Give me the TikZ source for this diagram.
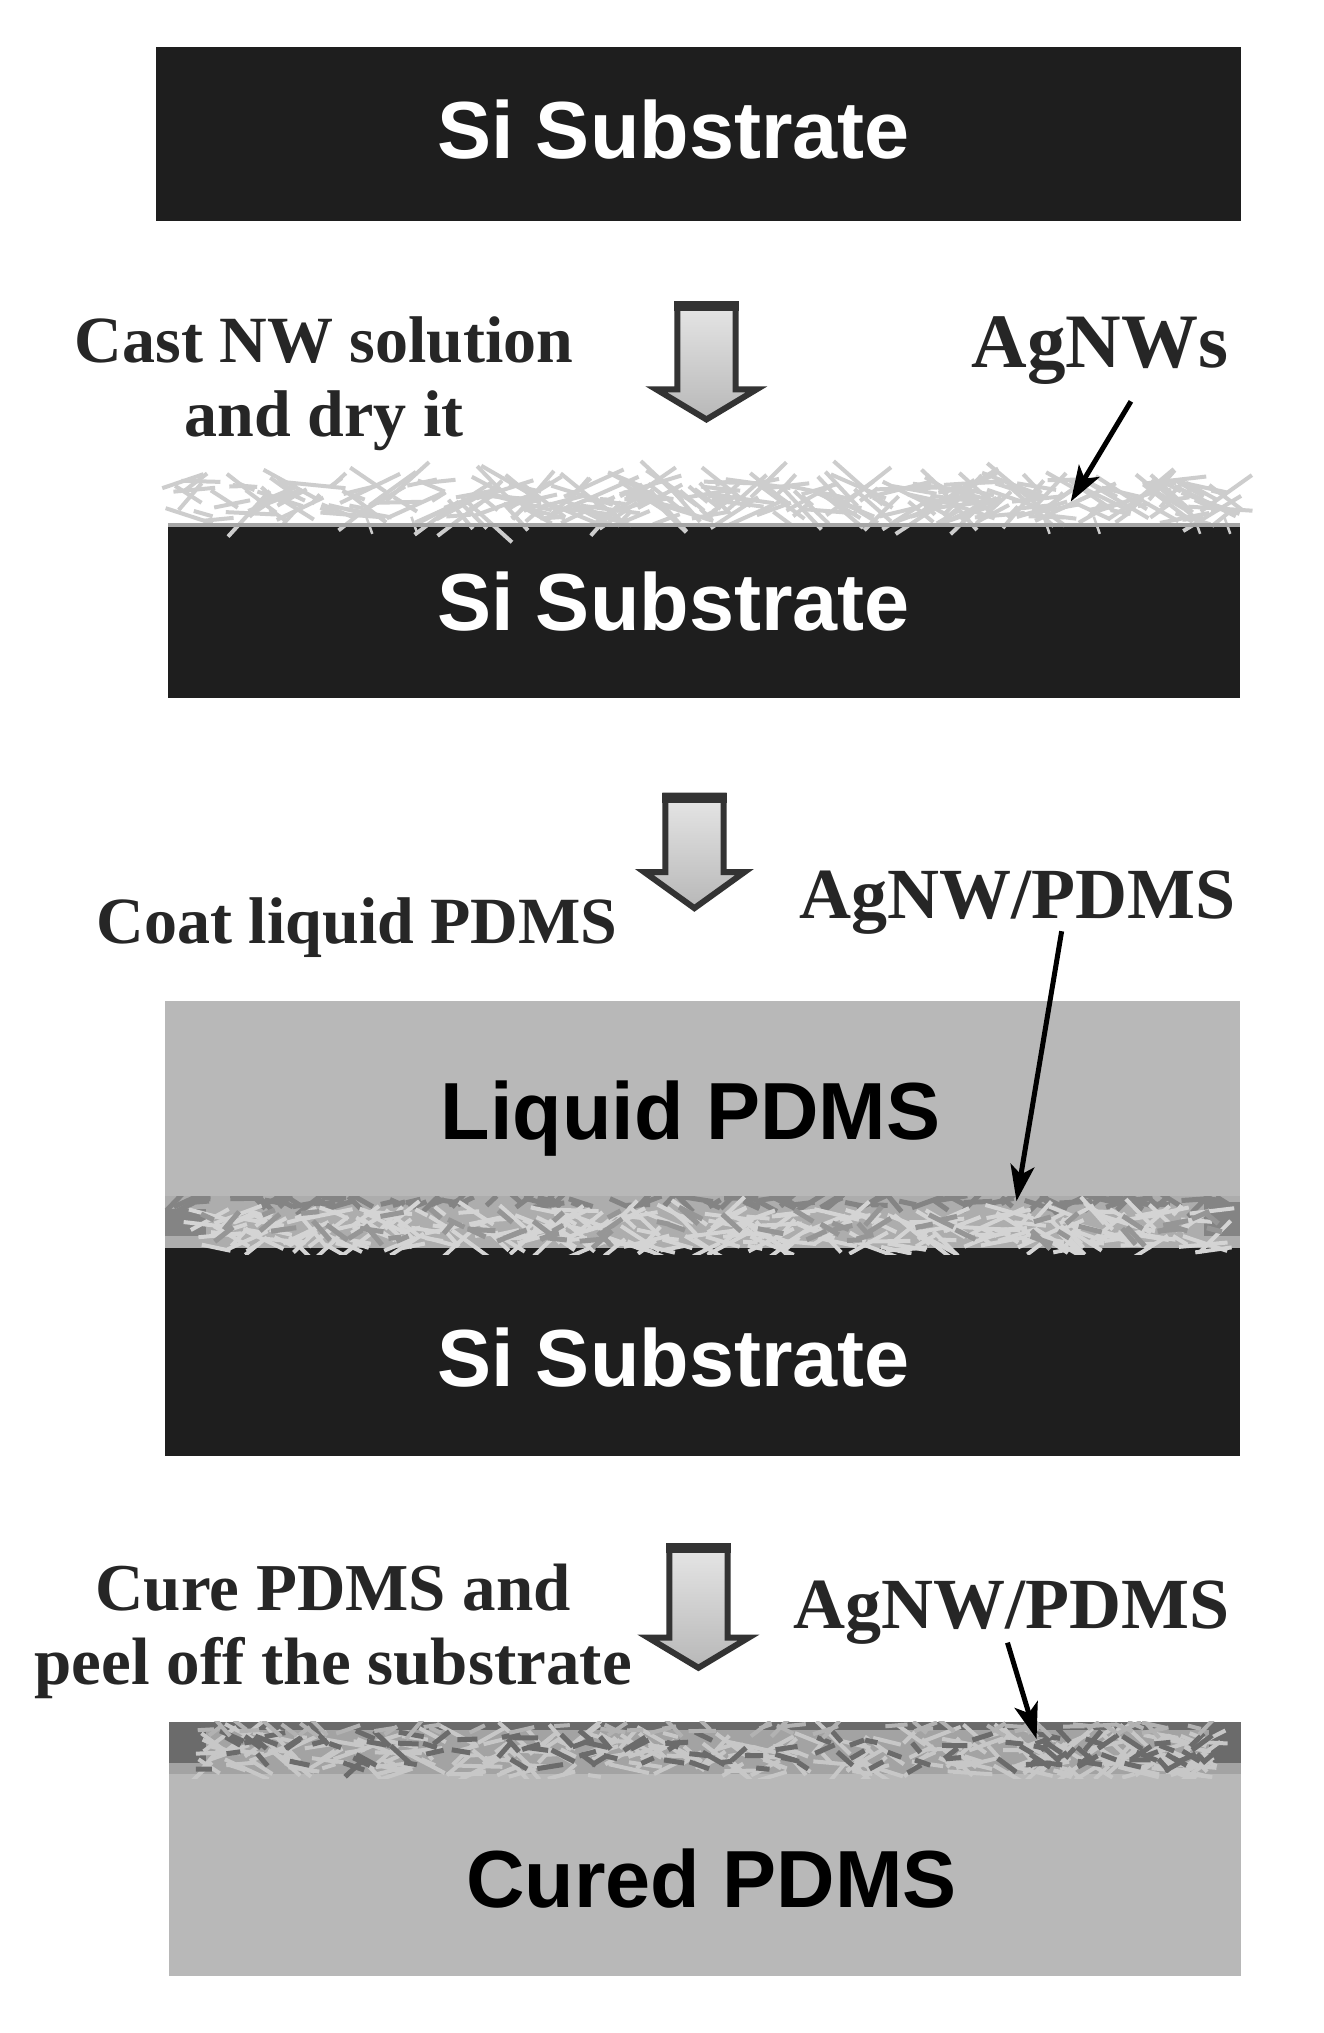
\documentclass[tikz,border=0pt]{standalone}
\usepackage{fontspec}
\setmainfont{Liberation Serif}
\setsansfont{Liberation Sans}
\usetikzlibrary{arrows.meta}

\definecolor{sidark}{HTML}{1E1E1E}
\definecolor{pdmsgray}{HTML}{B8B8B8}
\definecolor{wirelight}{HTML}{CDCDCD}
\definecolor{wiredark}{HTML}{848484}

\tikzset{
    layer/.style={draw=none, anchor=center, font=\sffamily\bfseries\fontsize{81}{90}\selectfont},
    steptext/.style={align=center, inner sep=0pt, font=\bfseries\fontsize{66}{74}\selectfont, text=black!85},
    walabel/.style={inner sep=0pt, font=\bfseries\fontsize{72}{80}\selectfont, text=black!85},
    pointer/.style={line width=5pt, -{Stealth[length=36pt,width=24pt,inset=9pt]}},
    blockarrow/.style={line width=6pt, draw=black!80, top color=black!10, bottom color=black!28, line join=miter}
}

% block arrow: centre x, top y, wing y, tip y
\newcommand{\stepdown}[4]{
    \draw[blockarrow] (#1-29,#2) -- (#1+29,#2) -- (#1+29,#3) -- (#1+50,#3)
        -- (#1,#4) -- (#1-50,#3) -- (#1-29,#3) -- cycle;
    \draw[line width=10pt, black!80] (#1-32,#2+2) -- (#1+32,#2+2);
}

% random wires: colour, count, x0, x1, y0, y1, width, longest half length
\newcommand{\wires}[8]{
    \foreach \w in {1,...,#2} {
        \pgfmathsetmacro{\wx}{#3+rnd*(#4-#3)}
        \pgfmathsetmacro{\wy}{#5+rnd*(#6-#5)}
        \pgfmathsetmacro{\wa}{-50+rnd*100}
        \pgfmathsetmacro{\wl}{6+rnd*(#8-6)}
        \draw[#1, line width=#7] (\wx-\wl*cos \wa,\wy-\wl*sin \wa) -- (\wx+\wl*cos \wa,\wy+\wl*sin \wa);
    }
}

\begin{document}
\begin{tikzpicture}[x=1.0035pt, y=-1.0035pt]
    \useasboundingbox[fill=white] (0,0) rectangle (1319.4,2026);
    \pgfmathsetseed{4711}

    % First substrate
    \fill[sidark] (155,47) rectangle (1237,220);
    \node[layer, text=white] (si1) at (671,129) {Si Substrate};

    % Cast step
    \stepdown{704}{303}{388}{418}
    \node[steptext] (cast) at (323,382) {Cast NW solution\\and dry it};
    \node[inner sep=0pt, font=\bfseries\fontsize{77}{80}\selectfont, text=black!85] (agnws) at (1096,349) {AgNWs};

    % Substrate with wires
    \fill[sidark] (167,521) rectangle (1236,696);
    \node[layer, text=white] (si2) at (671,599) {Si Substrate};
    \wires{wirelight}{320}{178}{1225}{478}{518}{4pt}{34}
    \foreach \sx in {365,410,1040,1090,1190,1220}
        \draw[wirelight, line width=2.5pt] (\sx,515) -- (\sx+6,532);
    \fill[black!35] (167,521) rectangle (1236,525);
    \coordinate (agnwsfrom) at (1127,400);
    \coordinate (agnwsto) at (1067,500);
    \draw[pointer] (agnwsfrom) -- (agnwsto);

    % Coat step
    \stepdown{692}{793}{869}{905}
    \node[steptext] (coat) at (356,924) {Coat liquid PDMS};
    \node[walabel] (wapdms1) at (1014,899) {AgNW/PDMS};

    % Liquid PDMS on substrate
    \fill[pdmsgray] (164,998) rectangle (1236,1192);
    \fill[sidark] (164,1244) rectangle (1236,1451);
    \fill[black!32] (164,1192) rectangle (1236,1244);
    \fill[wiredark] (164,1205) rectangle (205,1232);
    \fill[wiredark] (1200,1198) rectangle (1236,1232);
    \begin{scope}
        \clip (164,1192) rectangle (1236,1250);
        \wires{wiredark}{110}{170}{1230}{1193}{1201}{5pt}{18}
        \wires{black!17}{300}{200}{1215}{1206}{1246}{4pt}{26}
        \wires{wiredark!85}{70}{200}{1215}{1208}{1236}{5pt}{14}
    \end{scope}
    \node[layer] (liquid) at (688,1115) {Liquid PDMS};
    \node[layer, text=white] (si3) at (671,1353) {Si Substrate};
    \coordinate (wa1from) at (1058,928);
    \coordinate (wa1to) at (1013,1197);
    \draw[pointer] (wa1from) -- (wa1to);

    % Cure step
    \stepdown{696}{1541}{1632}{1662}
    \node[steptext, font=\bfseries\fontsize{67}{74}\selectfont] (cure) at (332,1626) {Cure PDMS and\\peel off the substrate};
    \node[walabel] (wapdms2) at (1008,1607) {AgNW/PDMS};

    % Cured PDMS
    \fill[pdmsgray] (168,1716) rectangle (1237,1969);
    \fill[black!36] (168,1716) rectangle (1237,1768);
    \fill[black!58] (168,1716) rectangle (1237,1724);
    \fill[black!58] (168,1724) rectangle (205,1757);
    \fill[black!58] (1205,1724) rectangle (1237,1757);
    \begin{scope}
        \clip (168,1716) rectangle (1237,1772);
        \wires{black!22}{300}{200}{1215}{1728}{1770}{4pt}{24}
        \wires{black!58}{130}{200}{1215}{1728}{1764}{5pt}{13}
        \wires{black!30}{60}{168}{1237}{1719}{1725}{4pt}{14}
    \end{scope}
    \node[layer] (cured) at (709,1872) {Cured PDMS};
    \coordinate (wa2from) at (1004,1637);
    \coordinate (wa2to) at (1033,1733);
    \draw[pointer] (wa2from) -- (wa2to);
\end{tikzpicture}
\end{document}
